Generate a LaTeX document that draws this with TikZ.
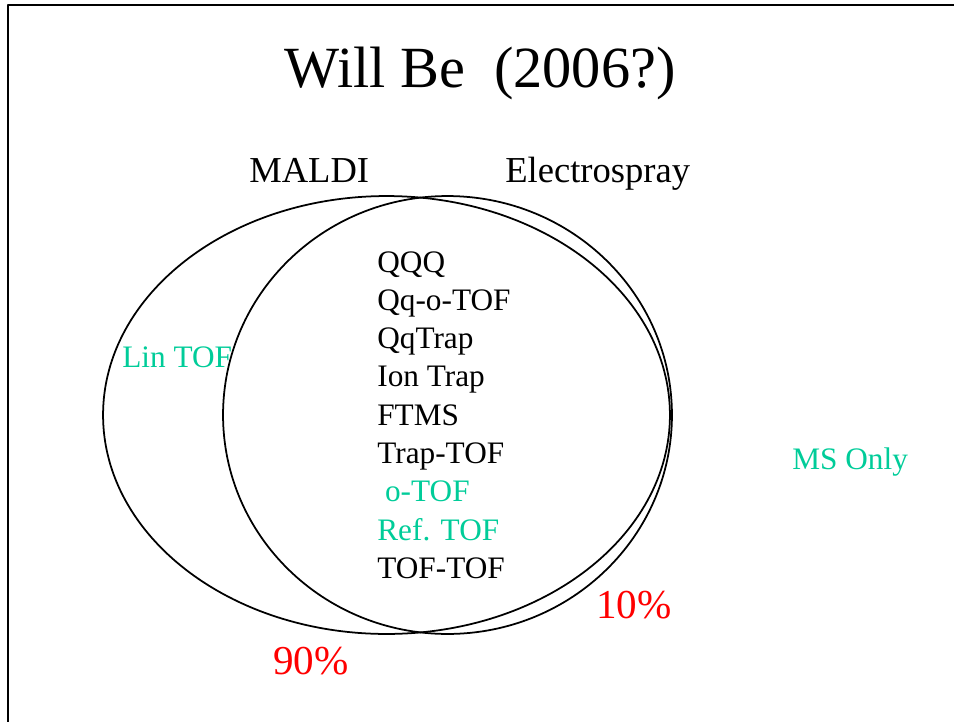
\documentclass[tikz,border=0pt]{standalone}
\usepackage{fontspec}
\setmainfont{Liberation Serif}
\definecolor{tofgreen}{RGB}{0,204,153}
\definecolor{pctred}{RGB}{255,0,0}

\begin{document}
\begin{tikzpicture}[x=0.02cm, y=-0.02cm, line cap=round, line join=round,
	item/.style={anchor=base west, inner sep=0pt, font=\fontsize{17.8}{21}\selectfont},
	source/.style={anchor=base west, inner sep=0pt, font=\fontsize{20.8}{25}\selectfont},
	pct/.style={anchor=base west, inner sep=0pt, text=pctred, font=\fontsize{23.4}{28}\selectfont}]
	\useasboundingbox (0,0) rectangle (954,721);
	\draw[line width=1.3pt] (8,730) -- (8,5) -- (960,5);
	
	\path (386.5,415) coordinate (M)
	(447.5,415) coordinate (E);
	
	\draw[line width=1pt] (M) ellipse [x radius=5.67cm, y radius=4.38cm];
	\draw[line width=1pt] (E) ellipse [x radius=4.49cm, y radius=4.38cm];
	
	\node[anchor=base, inner sep=0pt, font=\fontsize{33.2}{38}\selectfont] (title) at (480,87) {Will Be\ \ (2006?)};
	\node[source] (maldi) at (249,182) {MALDI};
	\node[source] (esi) at (505,182) {Electrospray};
	
	\foreach \txt/\col [count=\i from 0] in {QQQ/black, Qq-o-TOF/black, QqTrap/black, Ion Trap/black, FTMS/black, Trap-TOF/black, {\hspace{4.4pt}o-TOF}/tofgreen, Ref. TOF/tofgreen, TOF-TOF/black} {
		\node[item, text=\col] (inst\i) at (377,272+38.3*\i) {\txt};
	}
	
	\node[item, text=tofgreen] (lintof) at (122,367) {Lin TOF};
	\node[item, text=tofgreen] (msonly) at (792,469) {MS Only};
	\node[pct] (esipct) at (596,618) {10\%};
	\node[pct] (maldipct) at (273,674) {90\%};
\end{tikzpicture}
\end{document}
